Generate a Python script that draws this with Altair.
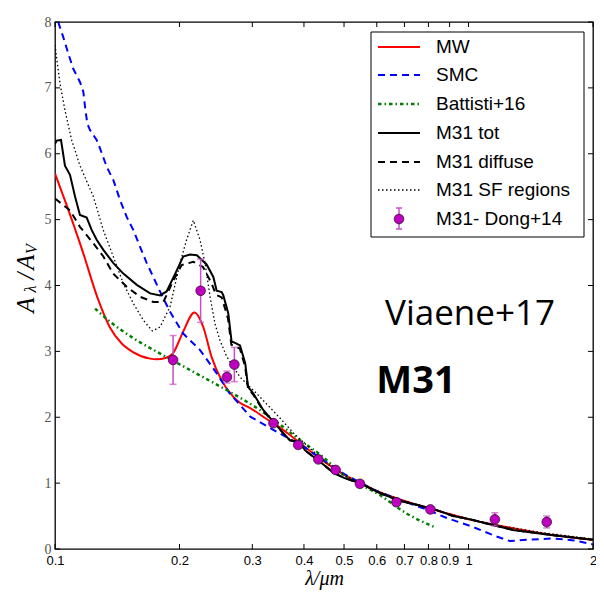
import altair as alt
import pandas as pd

W, H = 538, 527

# ---- data ----
mw_lam = [0.1, 0.1067, 0.1169, 0.1263, 0.1359, 0.145, 0.1544, 0.1698, 0.1764, 0.185,
          0.1929, 0.2042, 0.2173, 0.2283, 0.239, 0.2529, 0.27, 0.2801, 0.2966, 0.3255,
          0.3375, 0.37, 0.4, 0.44, 0.5, 0.55, 0.6, 0.7, 0.8, 0.9, 1.0, 1.2, 1.5, 2.0]
mw_val = [5.70, 5.22, 4.50, 3.84, 3.36, 3.12, 2.99, 2.89, 2.88, 2.90,
          2.97, 3.30, 3.59, 3.37, 2.92, 2.56, 2.31, 2.22, 2.14, 1.97,
          1.91, 1.73, 1.56, 1.36, 1.13, 1.0, 0.88, 0.73, 0.62, 0.53, 0.45, 0.35, 0.24, 0.14]

smc_lam = [0.1018, 0.1047, 0.1077, 0.1107, 0.1149, 0.1171, 0.1182, 0.1197, 0.1215, 0.1261,
           0.1285, 0.1334, 0.1384, 0.1436, 0.1491, 0.1547, 0.1605, 0.1667, 0.1728, 0.1788,
           0.1898, 0.2042, 0.2243, 0.2459, 0.2647, 0.2966, 0.3438, 0.4, 0.45, 0.5,
           0.55, 0.6, 0.7, 0.8, 0.886, 1.01, 1.17, 1.26, 1.38, 1.6, 1.8, 2.0]
smc_val = [8.0, 7.77, 7.52, 7.29, 7.09, 6.94, 6.71, 6.46, 6.36, 6.21,
           6.08, 5.80, 5.60, 5.30, 5.04, 4.84, 4.59, 4.34, 4.13, 3.93,
           3.60, 3.27, 3.02, 2.67, 2.36, 2.01, 1.78, 1.55, 1.33, 1.14,
           1.0, 0.88, 0.72, 0.59, 0.47, 0.35, 0.19, 0.12, 0.14, 0.16, 0.13, 0.07]

bat_lam = [0.125, 0.1359, 0.1547, 0.1828, 0.216, 0.2603, 0.313, 0.3636, 0.39, 0.438,
           0.5, 0.61, 0.708, 0.83]
bat_val = [3.65, 3.45, 3.20, 2.94, 2.69, 2.41, 2.11, 1.81, 1.66, 1.43,
           1.12, 0.82, 0.54, 0.33]

tot_lam = [0.1, 0.101, 0.1034, 0.1057, 0.1087, 0.1118, 0.1149, 0.1193, 0.1227, 0.1262,
           0.1309, 0.1384, 0.1463, 0.1577, 0.1698, 0.1795, 0.1862, 0.197, 0.2042, 0.2121,
           0.2203, 0.2326, 0.2415, 0.246, 0.253, 0.2553, 0.2624, 0.2673, 0.2725, 0.2801,
           0.2884, 0.293, 0.3018, 0.3188, 0.3375, 0.3565, 0.37, 0.39, 0.402, 0.438,
           0.471, 0.50, 0.546, 0.61, 0.683, 0.762, 0.838, 0.918, 1.01, 1.1,
           1.28, 1.6, 2.0]
tot_val = [6.15, 6.20, 6.21, 5.82, 5.68, 5.35, 5.07, 5.03, 4.84, 4.69,
           4.54, 4.34, 4.18, 4.01, 3.88, 3.85, 3.91, 4.23, 4.44, 4.47,
           4.46, 4.32, 4.13, 3.92, 3.90, 3.85, 3.58, 3.15, 3.13, 3.09,
           2.82, 2.46, 2.36, 2.11, 1.93, 1.76, 1.65, 1.63, 1.50, 1.32,
           1.16, 1.08, 1.0, 0.85, 0.73, 0.66, 0.59, 0.50, 0.45, 0.39,
           0.29, 0.21, 0.14]

dif_lam = [0.1, 0.1087, 0.1149, 0.1238, 0.1309, 0.1383, 0.1491, 0.1605, 0.1728, 0.1828,
           0.1934, 0.2024, 0.216, 0.228, 0.2393, 0.245, 0.253, 0.262, 0.267, 0.2725,
           0.28, 0.288, 0.293, 0.3018, 0.3188, 0.3375, 0.3565, 0.37, 0.39, 0.402,
           0.438, 0.471, 0.5, 0.546, 0.61, 0.683, 0.762, 0.838, 0.918, 1.01,
           1.1, 1.28, 1.6, 2.0]
dif_val = [5.32, 5.14, 4.89, 4.64, 4.44, 4.18, 3.98, 3.83, 3.75, 3.75,
           4.08, 4.31, 4.36, 4.28, 4.03, 3.86, 3.82, 3.50, 3.10, 3.08,
           3.04, 2.78, 2.44, 2.34, 2.10, 1.92, 1.76, 1.65, 1.62, 1.50,
           1.32, 1.16, 1.08, 1.0, 0.85, 0.73, 0.66, 0.59, 0.50, 0.45,
           0.39, 0.29, 0.21, 0.14]

sf_lam = [0.1, 0.1028, 0.1057, 0.1097, 0.1149, 0.1238, 0.1309, 0.1383, 0.1463, 0.1546,
          0.1636, 0.172, 0.1795, 0.1898, 0.2006, 0.208, 0.216, 0.2243, 0.2306, 0.2371,
          0.2437, 0.2505, 0.2602, 0.2801, 0.3074, 0.3438, 0.3775, 0.41, 0.45, 0.5,
          0.55, 0.61, 0.7, 0.8, 0.9, 1.0, 1.2, 1.5, 2.0]
sf_val = [7.65, 7.07, 6.66, 6.21, 5.82, 5.35, 4.84, 4.44, 4.03, 3.73,
          3.47, 3.31, 3.37, 3.68, 4.34, 4.69, 4.99, 4.69, 4.34, 3.83,
          3.42, 3.17, 2.92, 2.61, 2.36, 2.04, 1.76, 1.55, 1.32, 1.12,
          1.0, 0.86, 0.73, 0.62, 0.53, 0.46, 0.35, 0.25, 0.15]

dong_lam = [0.193, 0.225, 0.2605, 0.2715, 0.3375, 0.3874, 0.4333, 0.4771, 0.5462, 0.6694,
            0.8088, 1.158, 1.546]
dong_val = [2.87, 3.92, 2.61, 2.80, 1.91, 1.58, 1.36, 1.20, 0.99, 0.71,
            0.60, 0.45, 0.41]
dong_err = [0.37, 0.48, 0.09, 0.26, 0.03, 0.03, 0.03, 0.03, 0.02, 0.03,
            0.03, 0.10, 0.09]

xticks = [0.1, 0.2, 0.3, 0.4, 0.5, 0.6, 0.7, 0.8, 0.9, 1, 2]
yticks = [0, 1, 2, 3, 4, 5, 6, 7, 8]

legend_labels = ["MW", "SMC", "Battisti+16", "M31 tot", "M31 diffuse",
                 "M31 SF regions", "M31- Dong+14"]

# ---- scales / axes ----
xs = alt.Scale(type="log", domain=[0.1, 2], nice=False)
ys = alt.Scale(domain=[0, 8], nice=False)
xaxis = alt.Axis(values=xticks, format=".1~f", labelOverlap=False, labelFlush=False,
                 ticks=False, domain=False, grid=False, labelPadding=5,
                 labelFont="Liberation Sans", labelFontSize=13, labelColor="black",
                 title="λ/μm", titleFont="Liberation Serif", titleFontStyle="italic",
                 titleFontWeight="normal", titleFontSize=20, titleColor="black",
                 titlePadding=1)
yaxis = alt.Axis(values=yticks, format="d", ticks=False, domain=False, grid=False,
                 labelPadding=4, labelFont="Liberation Serif", labelFontSize=14,
                 labelColor="#555555", title="")


def frame(lam, val):
    return pd.DataFrame({"lam": lam, "val": val})


def line(lam, val, color, width, dash=None, interp="linear"):
    kw = dict(color=color, strokeWidth=width, interpolate=interp, clip=True)
    if dash is not None:
        kw["strokeDash"] = dash
    return alt.Chart(frame(lam, val)).mark_line(**kw).encode(
        x=alt.X("lam:Q", scale=xs, axis=xaxis),
        y=alt.Y("val:Q", scale=ys, axis=yaxis),
    )


layers = [
    line(mw_lam, mw_val, "#ff0000", 2, interp="monotone"),
    line(smc_lam, smc_val, "#0000ff", 2, dash=[7, 5]),
    line(bat_lam, bat_val, "#008000", 2.5, dash=[3.5, 3, 1.5, 3], interp="monotone"),
    line(tot_lam, tot_val, "black", 2),
    line(dif_lam, dif_val, "black", 2, dash=[7, 5]),
    line(sf_lam, sf_val, "black", 1.3, dash=[1.5, 2.5]),
]

dong = pd.DataFrame({"lam": dong_lam, "val": dong_val,
                     "lo": [v - e for v, e in zip(dong_val, dong_err)],
                     "hi": [v + e for v, e in zip(dong_val, dong_err)]})
ecol = "#c84fc8"
layers.append(alt.Chart(dong).mark_rule(color=ecol, strokeWidth=1.5).encode(
    x=alt.X("lam:Q", scale=xs, axis=xaxis), y=alt.Y("lo:Q", scale=ys, axis=yaxis), y2="hi:Q"))
for f in ["lo", "hi"]:
    layers.append(alt.Chart(dong).mark_tick(color=ecol, orient="horizontal", size=7,
                                            thickness=1.5).encode(
        x=alt.X("lam:Q", scale=xs, axis=xaxis), y=alt.Y(f + ":Q", scale=ys, axis=yaxis)))
layers.append(alt.Chart(dong).mark_point(filled=True, fill="#bf00bf", stroke="black",
                                         strokeWidth=0.6, size=95, opacity=1).encode(
    x=alt.X("lam:Q", scale=xs, axis=xaxis), y=alt.Y("val:Q", scale=ys, axis=yaxis)))

# inward ticks on all four sides
xt = pd.DataFrame({"t": xticks})
yt = pd.DataFrame({"t": yticks})
for a, b in [(H, H - 5), (0, 5)]:
    layers.append(alt.Chart(xt).mark_rule(color="black", strokeWidth=1).encode(
        x=alt.X("t:Q", scale=xs, axis=xaxis), y=alt.value(a), y2=alt.value(b)))
for a, b in [(0, 5), (W, W - 5)]:
    layers.append(alt.Chart(yt).mark_rule(color="black", strokeWidth=1).encode(
        y=alt.Y("t:Q", scale=ys, axis=yaxis), x=alt.value(a), x2=alt.value(b)))

dummy = pd.DataFrame({"a": [0]})

# legend box
LX0, LX1, LY0, LY1 = 316, 529, 10, 215
layers.append(alt.Chart(dummy).mark_rect(fill="white", stroke="black", strokeWidth=1).encode(
    x=alt.value(LX0), x2=alt.value(LX1), y=alt.value(LY0), y2=alt.value(LY1)))
row_y = [25, 53, 82, 111, 140, 168, 197]
styles = [("#ff0000", 2, None), ("#0000ff", 2, [7, 5]), ("#008000", 2.5, [3.5, 3, 1.5, 3]),
          ("black", 2, None), ("black", 2, [7, 5]), ("black", 1.3, [1.5, 2.5])]
for (col, wdt, dash), yy in zip(styles, row_y):
    kw = dict(color=col, strokeWidth=wdt)
    if dash is not None:
        kw["strokeDash"] = dash
    layers.append(alt.Chart(dummy).mark_rule(**kw).encode(
        x=alt.value(323), x2=alt.value(365), y=alt.value(yy)))
yy = row_y[6]
layers.append(alt.Chart(dummy).mark_rule(color=ecol, strokeWidth=1.5).encode(
    x=alt.value(344), y=alt.value(yy - 11), y2=alt.value(yy + 10)))
for dy in (-11, 10):
    layers.append(alt.Chart(dummy).mark_rule(color=ecol, strokeWidth=1.5).encode(
        x=alt.value(341), x2=alt.value(347), y=alt.value(yy + dy)))
layers.append(alt.Chart(dummy).mark_point(filled=True, fill="#bf00bf", stroke="black",
                                          strokeWidth=0.6, size=95, opacity=1).encode(
    x=alt.value(344), y=alt.value(yy)))
for lab, yy in zip(legend_labels, row_y):
    layers.append(alt.Chart(dummy).mark_text(align="left", baseline="middle",
                                             font="Liberation Sans", fontSize=19,
                                             color="black").encode(
        x=alt.value(381), y=alt.value(yy), text=alt.value(lab)))

# annotations
layers.append(alt.Chart(dummy).mark_text(align="center", baseline="middle", font="Open Sans",
                                         fontSize=35, color="black").encode(
    x=alt.value(415), y=alt.value(292), text=alt.value("Viaene+17")))
layers.append(alt.Chart(dummy).mark_text(align="center", baseline="middle", font="Open Sans",
                                         fontSize=38, fontWeight="bold", color="black").encode(
    x=alt.value(361), y=alt.value(360), text=alt.value("M31")))

# y-axis title A_λ / A_V
ytitle = [("A", -29, 283, 25), ("λ", -24, 267, 16), ("/", -29, 254, 25),
          ("A", -29, 240, 25), ("V", -23, 227, 16)]
for t, xx, yy, fs in ytitle:
    layers.append(alt.Chart(dummy).mark_text(align="center", baseline="middle",
                                             font="Liberation Serif", fontStyle="italic",
                                             fontSize=fs, angle=270, color="black").encode(
        x=alt.value(xx), y=alt.value(yy), text=alt.value(t)))

chart = alt.layer(*layers).properties(
    width=W, height=H,
    padding={"left": 47, "top": 14, "right": 3, "bottom": 41},
    autosize=alt.AutoSizeParams(type="none"),
    background="white",
).configure_view(stroke="black", strokeWidth=1.3)

chart.save("out.html", embed_options={"renderer": "svg", "actions": False})
